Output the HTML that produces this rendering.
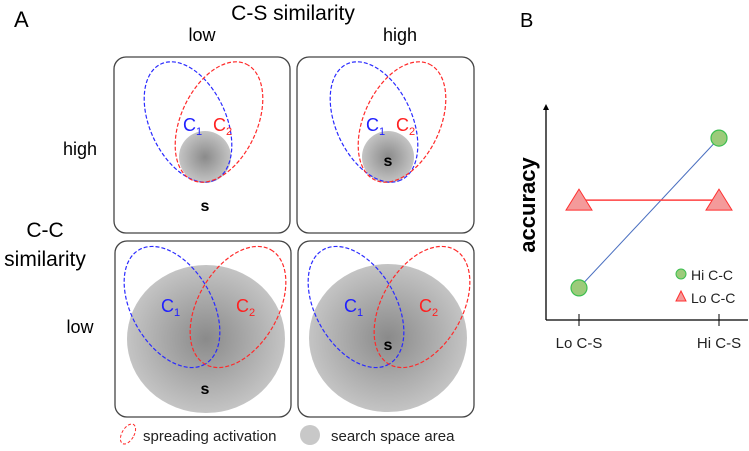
<!DOCTYPE html>
<html><head><meta charset="utf-8"><style>
body{margin:0;background:#fff;width:749px;height:446px;overflow:hidden;font-family:"Liberation Sans",sans-serif}
svg text{font-family:"Liberation Sans",sans-serif}
</style></head><body>
<svg id="fig" width="749" height="446" viewBox="0 0 749 446">
<defs>
<radialGradient id="g" cx="0.5" cy="0.5" r="0.5">
<stop offset="0" stop-color="#8a8a8a"/><stop offset="1" stop-color="#c4c4c4"/>
</radialGradient>
</defs>
<g>
<text x="14" y="27" font-size="22">A</text>
<text x="293" y="20" font-size="21" text-anchor="middle">C-S similarity</text>
<text x="202" y="41" font-size="18" text-anchor="middle">low</text>
<text x="400" y="41" font-size="18" text-anchor="middle">high</text>
<text x="80" y="155" font-size="18" text-anchor="middle">high</text>
<text x="45" y="237" font-size="21" text-anchor="middle">C-C</text>
<text x="45" y="266" font-size="21" text-anchor="middle">similarity</text>
<text x="80" y="333" font-size="18" text-anchor="middle">low</text>

<rect x="114" y="57" width="176" height="176" rx="12" fill="none" stroke="#444" stroke-width="1.3"/>
<rect x="297" y="57" width="177" height="176" rx="12" fill="none" stroke="#444" stroke-width="1.3"/>
<rect x="115" y="241" width="176" height="176" rx="12" fill="none" stroke="#444" stroke-width="1.3"/>
<rect x="298" y="241" width="176" height="176" rx="12" fill="none" stroke="#444" stroke-width="1.3"/>

<circle cx="205" cy="157" r="26" fill="url(#g)"/>
<circle cx="388" cy="157" r="26" fill="url(#g)"/>
<ellipse cx="206" cy="339" rx="79" ry="74" fill="url(#g)"/>
<ellipse cx="388" cy="338" rx="79" ry="74" fill="url(#g)"/>

<g fill="none" stroke-width="1.2" stroke-dasharray="4 2">
<ellipse cx="188" cy="122" rx="64" ry="38" transform="rotate(65 188 122)" stroke="#2a2aff"/>
<ellipse cx="219" cy="122" rx="64" ry="38" transform="rotate(-65 219 122)" stroke="#ff2a2a"/>
<ellipse cx="374" cy="122" rx="64" ry="38" transform="rotate(65 374 122)" stroke="#2a2aff"/>
<ellipse cx="402" cy="122" rx="64" ry="38" transform="rotate(-65 402 122)" stroke="#ff2a2a"/>
<ellipse cx="172" cy="307" rx="66" ry="40" transform="rotate(60 172 307)" stroke="#2a2aff"/>
<ellipse cx="238" cy="307" rx="66" ry="40" transform="rotate(-60 238 307)" stroke="#ff2a2a"/>
<ellipse cx="356" cy="307" rx="66" ry="40" transform="rotate(60 356 307)" stroke="#2a2aff"/>
<ellipse cx="422" cy="307" rx="66" ry="40" transform="rotate(-60 422 307)" stroke="#ff2a2a"/>
</g>
<g font-size="18">
<text x="183" y="131" fill="#2020ff">C<tspan font-size="11" dy="4">1</tspan></text>
<text x="213" y="131" fill="#ff2020">C<tspan font-size="11" dy="4">2</tspan></text>
<text x="366" y="131" fill="#2020ff">C<tspan font-size="11" dy="4">1</tspan></text>
<text x="396" y="131" fill="#ff2020">C<tspan font-size="11" dy="4">2</tspan></text>
<text x="161" y="312" fill="#2020ff">C<tspan font-size="11" dy="4">1</tspan></text>
<text x="236" y="312" fill="#ff2020">C<tspan font-size="11" dy="4">2</tspan></text>
<text x="344" y="312" fill="#2020ff">C<tspan font-size="11" dy="4">1</tspan></text>
<text x="419" y="312" fill="#ff2020">C<tspan font-size="11" dy="4">2</tspan></text>
</g>
<g font-size="16" font-weight="bold" text-anchor="middle">
<text x="205" y="211">s</text>
<text x="388" y="166">s</text>
<text x="205" y="394">s</text>
<text x="388" y="350">s</text>
</g>
<ellipse cx="128" cy="434" rx="6" ry="11" transform="rotate(30 128 434)" fill="none" stroke="#ff2a2a" stroke-width="1" stroke-dasharray="3 2"/>
<text x="143" y="441" font-size="15" fill="#222">spreading activation</text>
<circle cx="310" cy="435" r="10" fill="#c8c8c8"/>
<text x="331" y="441" font-size="15" fill="#222">search space area</text>
</g>

<g id="chart">
<text x="520" y="27" font-size="20">B</text>
<text transform="translate(535 205) rotate(-90)" font-size="22" font-weight="bold" text-anchor="middle">accuracy</text>
<line x1="546" y1="320" x2="748" y2="320" stroke="#000" stroke-width="1.3"/>
<line x1="546" y1="320" x2="546" y2="108" stroke="#000" stroke-width="1.3"/>
<polygon points="546,104 543,110 549,110" fill="#000"/>
<g id="xticks"></g>
<g id="series"></g>
<circle cx="681" cy="274" r="5" fill="#9ccb7a" stroke="#3cbf50" stroke-width="1"/>
<text x="691" y="280" font-size="14" fill="#222">Hi C-C</text>
<polygon points="681,291 676,301 686,301" fill="#f49a9a" stroke="#ff3030" stroke-width="1"/>
<text x="691" y="303" font-size="14" fill="#222">Lo C-C</text>
</g>
</svg>
<script>
const categories = ["Lo C-S", "Hi C-S"];
const hiCC = [0.15, 0.85];
const loCC = [0.56, 0.56];
const NS = "http://www.w3.org/2000/svg";
const xPos = i => 579 + i * 140;
const yPos = v => 320 - v * 214;
const mk = (tag, attrs, parent) => { const e = document.createElementNS(NS, tag); for (const k in attrs) e.setAttribute(k, attrs[k]); parent.appendChild(e); return e; };
const xt = document.getElementById('xticks');
categories.forEach((c, i) => {
  const t = mk('line', {x1: xPos(i), x2: xPos(i), y1: 314, y2: 326, stroke: '#000', 'stroke-width': 1}, xt);
  
  
  const l = mk('text', {x: xPos(i), y: 348, 'font-size': 15, 'text-anchor': 'middle', fill: '#222'}, xt);
  l.textContent = c;
  
  
});
const s = document.getElementById('series');
const lh = mk('line', {x1: xPos(0), y1: yPos(hiCC[0]), x2: xPos(1), y2: yPos(hiCC[1]), stroke: '#4a6fc0', 'stroke-width': 1}, s);


const ll = mk('line', {x1: xPos(0), y1: yPos(loCC[0]), x2: xPos(1), y2: yPos(loCC[1]), stroke: '#ff4040', 'stroke-width': 1.5}, s);


loCC.forEach((v, i) => {
  const x = xPos(i), y = yPos(v);
  const p = mk('polygon', {points: `${x},${y-11} ${x-13},${y+10} ${x+13},${y+10}`, fill: '#f49a9a', stroke: '#ff3030', 'stroke-width': 1}, s);
  
  
});
hiCC.forEach((v, i) => {
  const c = mk('circle', {cx: xPos(i), cy: yPos(v), r: 8, fill: '#9ccb7a', stroke: '#3cbf50', 'stroke-width': 1.2}, s);
  
  
});
</script>
</body></html>
